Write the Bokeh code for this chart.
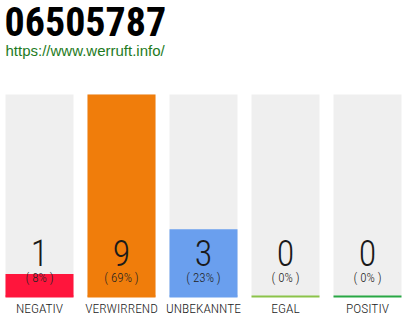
from bokeh.plotting import figure
from bokeh.models import Range1d, Label, ColumnDataSource
from bokeh.core.properties import value
from bokeh.embed import file_html
from bokeh.resources import INLINE

title = "06505787"
subtitle = "https://www.werruft.info/"
categories = ["NEGATIV", "VERWIRREND", "UNBEKANNTE", "EGAL", "POSITIV"]
counts = [1, 9, 3, 0, 0]
percents = ["( 8% )", "( 69% )", "( 23% )", "( 0% )", "( 0% )"]
colors = ["#FF153C", "#F07D0B", "#6A9FEE", "#8BC34A", "#28A745"]

mx = max(counts)
xs = list(range(len(categories)))
src = ColumnDataSource(dict(
    x=xs,
    frac=[c / mx for c in counts],
    num=[str(c) for c in counts],
    pct=percents,
    cat=categories,
    color=colors,
    one=[1.0] * len(xs),
    zero=[0.0] * len(xs),
))

p = figure(width=410, height=320, output_backend="svg", toolbar_location=None,
           x_range=Range1d(-39 / 82, (410 - 39) / 82),
           y_range=Range1d(-24 / 202, 296 / 202),
           min_border=0, border_fill_color="white", outline_line_color=None)
p.axis.visible = False
p.grid.visible = False

p.vbar(x="x", top="one", bottom="zero", width=68 / 82, fill_color="#EFEFEF",
       line_color=None, source=src)
p.vbar(x="x", top="frac", bottom="zero", width=68 / 82, fill_color="color",
       line_color=None, source=src)
p.rect(x="x", y="zero", width=68 / 82, height=2, height_units="screen",
       fill_color="color", line_color=None, source=src)

p.text(x="x", y="zero", text="num", source=src, text_align="center",
       text_baseline="bottom", y_offset=-31, text_font_size="36px",
       text_font=value("Roboto Condensed Light"), text_color="#1A1A1A")
p.text(x="x", y="zero", text="pct", source=src, text_align="center",
       text_baseline="bottom", y_offset=-12, text_font_size="13px",
       text_font=value("Roboto Condensed Light"), text_color="#222222")
p.text(x="x", y="zero", text="cat", source=src, text_align="center",
       text_baseline="top", y_offset=3, text_font_size="13.5px",
       text_font=value("Roboto Condensed Light"), text_color="#222222")

p.add_layout(Label(x=4, y=320 - 20.5, x_units="screen", y_units="screen", text=title,
                   text_font="Roboto Condensed", text_font_style="bold",
                   text_font_size="40px", text_color="#000000", text_baseline="middle"))
p.add_layout(Label(x=5, y=320 - 41, x_units="screen", y_units="screen", text=subtitle,
                   text_font="Liberation Sans", text_font_size="15px",
                   text_color="#1E7B1E", text_baseline="top"))

open("out.html", "w").write(file_html(p, INLINE))
